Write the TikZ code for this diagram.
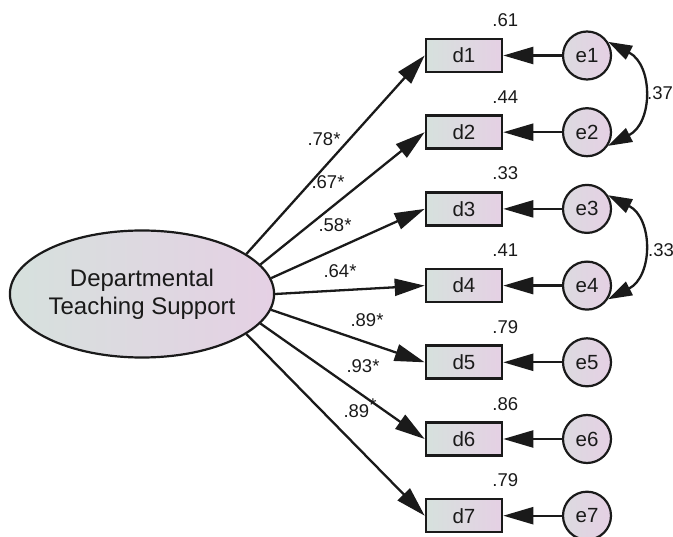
\documentclass[tikz,border=0pt]{standalone}
\usepackage{fontspec}
\setmainfont{Liberation Sans}
\usetikzlibrary{arrows.meta,shapes.geometric,calc}
\definecolor{ink}{HTML}{1A1A1A}
\definecolor{shadeL}{HTML}{D6E1DD}
\definecolor{shadeR}{HTML}{E5D0E4}
\begin{document}
\begin{tikzpicture}[x=1pt,y=-1pt,
  obs/.style={draw=ink, line width=2.6pt, rectangle, minimum width=76pt,
    minimum height=33pt, inner sep=0pt, left color=shadeL, right color=shadeR,
    text=ink, font=\fontsize{20.5}{24}\selectfont},
  err/.style={draw=ink, line width=2.2pt, circle, minimum size=48pt, inner sep=0pt,
    left color=shadeL!60!shadeR, right color=shadeR, text=ink,
    font=\fontsize{20.5}{24}\selectfont},
  lat/.style={draw=ink, line width=2.2pt, ellipse, minimum width=258pt,
    minimum height=127pt, inner sep=0pt, left color=shadeL, right color=shadeR,
    text=ink, align=center, font=\fontsize{24}{28}\selectfont},
  loadarrow/.style={draw=ink, line width=2.3pt, -{Triangle[length=30pt,width=17pt]}},
  covarrow/.style={draw=ink, line width=2.3pt,
    {Triangle[length=24pt,width=15pt]}-{Triangle[length=24pt,width=15pt]}},
  num/.style={inner sep=0pt, text=ink, font=\fontsize{18.5}{20}\selectfont}
]
\useasboundingbox (0,0) rectangle (673,537);

% latent factor
\node[lat] (F) at (142,294) {Departmental\\Teaching Support};

% indicators, error terms and squared multiple correlations
\foreach \i/\y/\r in {1/55.5/.61, 2/132.2/.44, 3/208.9/.33, 4/285.6/.41,
                      5/362.3/.79, 6/439/.86, 7/515.7/.79} {
  \node[obs] (d\i) at (464,\y) {d\i};
  \node[err] (e\i) at (587,\y) {e\i};
  \node[num] (r\i) at ($(d\i.north east)+(2,-17.5)$) {\r};
  \draw[loadarrow] (e\i) -- (d\i);
}

% factor loadings
\foreach \i/\ang in {1/21, 2/14, 3/7, 4/0, 5/-7, 6/-14, 7/-21}
  \draw[loadarrow] (F.\ang) -- (d\i.west);

\node[num] (l1) at (324,139) {.78*};
\node[num] (l2) at (328,182) {.67*};
\node[num] (l3) at (335,225) {.58*};
\node[num] (l4) at (340,271) {.64*};
\node[num] (l5) at (367,320) {.89*};
\node[num] (l6) at (363,366) {.93*};
\node[num] (l7) at (360,408) {.89\raisebox{6pt}{*}};

% error covariances
\draw[covarrow] (e1.33) to[out=-27, in=27, looseness=1.25] (e2.-33);
\draw[covarrow] (e3.33) to[out=-27, in=27, looseness=1.25] (e4.-33);
\node[num] (c12) at (660,93) {.37};
\node[num] (c34) at (661,250) {.33};
\end{tikzpicture}
\end{document}
